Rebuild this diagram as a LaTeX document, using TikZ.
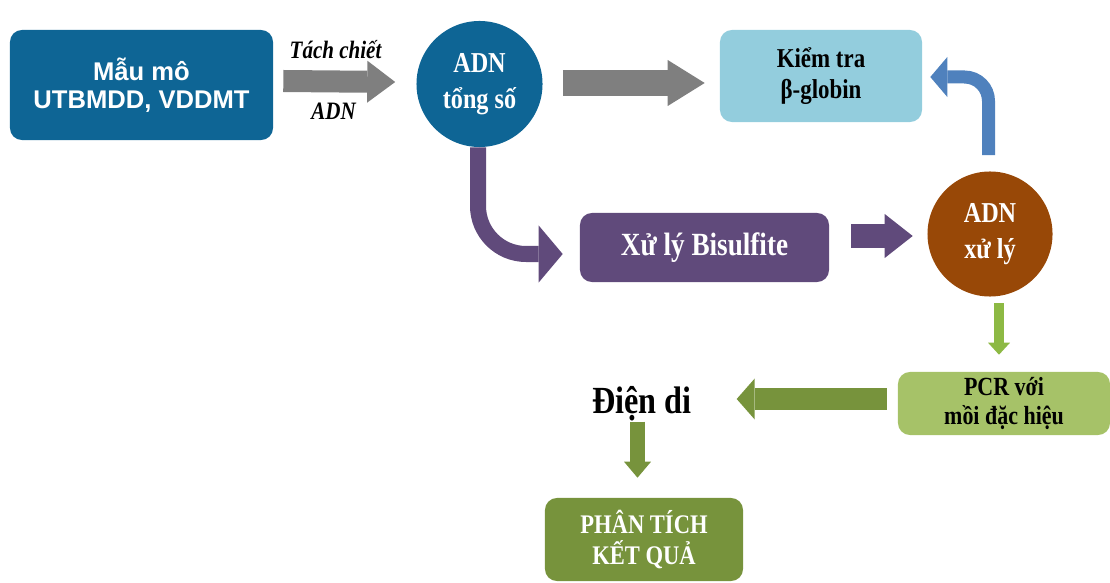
\documentclass[tikz,border=0pt]{standalone}
\usepackage{fontspec}
\setmainfont{Liberation Serif}[FakeStretch=0.84]
\newfontfamily\arialfont{Liberation Sans}
\usetikzlibrary{arrows.meta,calc}

\definecolor{xanhdam}{HTML}{0E6595}
\definecolor{xam}{HTML}{7F7F7F}
\definecolor{xanhnhat}{HTML}{93CDDD}
\definecolor{xanhduong}{HTML}{4F81BD}
\definecolor{tim}{HTML}{604A7B}
\definecolor{nau}{HTML}{984807}
\definecolor{lacay}{HTML}{8DB944}
\definecolor{lanhat}{HTML}{A6C268}
\definecolor{oliu}{HTML}{77933C}

\begin{document}
\begin{tikzpicture}[x=0.025cm,y=-0.025cm,
    hop/.style={rectangle,rounded corners=0.3cm,inner sep=0pt,align=center},
    tron/.style={circle,inner sep=0pt,align=center,text=white,
      font=\bfseries\fontsize{20.5}{26}\selectfont},
    nhan/.style={font=\bfseries\itshape\fontsize{17.8}{20}\selectfont},
    muiten/.style n args={4}{draw=#1,line width=#2,
      -{Triangle[width=#3,length=#4,line width=0pt]}}]
  \useasboundingbox (0,0) rectangle (1110,583);

  % cac khoi
  \node[hop,fill=xanhdam,text=white,minimum width=6.575cm,minimum height=2.75cm,
    font=\arialfont\bfseries\fontsize{18.2}{20}\selectfont] (mau) at (141.5,85)
    {Mẫu mô\\UTBMDD, VDDMT};
  \node[tron,fill=xanhdam,minimum size=3.15cm] (tong) at (479.5,84) {ADN\\tổng số};
  \node[hop,fill=xanhnhat,minimum width=5.05cm,minimum height=2.3cm,
    font=\bfseries\fontsize{19.4}{22.5}\selectfont] (kiemtra) at (821,76)
    {Kiểm tra\\β-globin};
  \node[hop,fill=tim,text=white,minimum width=6.225cm,minimum height=1.725cm,
    font=\bfseries\fontsize{23}{26}\selectfont] (bisul) at (704.5,247.5)
    {Xử lý Bisulfite};
  \node[tron,fill=nau,minimum size=3.125cm] (xuly) at (990,234) {ADN\\xử lý};
  \node[hop,fill=lanhat,minimum width=5.3cm,minimum height=1.575cm,
    font=\bfseries\fontsize{18.6}{20.6}\selectfont] (pcr) at (1004,403.5)
    {PCR với\\mồi đặc hiệu};
  \node[anchor=base,font=\bfseries\fontsize{27.3}{30}\selectfont] (diendi) at (642,413)
    {Điện di};
  \node[hop,fill=oliu,text=white,minimum width=4.95cm,minimum height=2.075cm,
    font=\bfseries\fontsize{19.1}{22.7}\selectfont] (ketqua) at (644,539.5)
    {PHÂN TÍCH\\KẾT QUẢ};

  % nhan tren mui ten
  \node[nhan,anchor=base] (tach) at (335.5,59) {Tách chiết};
  \node[nhan,anchor=base] (adn) at (333.5,120) {ADN};

  % mui ten
  \draw[muiten={xam}{0.55cm}{1.05cm}{0.7cm}]
    ($(mau.east)+(10,-4)$) -- ($(tong.west)+(-21,-2)$);
  \draw[muiten={xam}{0.625cm}{1.15cm}{0.925cm}]
    ($(tong.east)+(20,-1)$) -- ($(kiemtra.west |- tong.east)+(-15,-1)$);
  \draw[muiten={xanhduong}{0.325cm}{1.0cm}{0.425cm},rounded corners=0.6cm]
    ($(xuly.north)+(-1.5,-16)$) |- ($(kiemtra.east)+(8,1)$);
  \draw[muiten={tim}{0.4cm}{1.425cm}{0.6cm},rounded corners=1.2cm]
    ($(tong.south)+(-1.5,0)$) |- ($(bisul.west)+(-17,6.5)$);
  \draw[muiten={tim}{0.575cm}{1.1cm}{0.7cm}]
    ($(bisul.east)+(22,-11.5)$) -- ($(xuly.west |- bisul.east)+(-14.5,-11.5)$);
  \draw[muiten={lacay}{0.25cm}{0.55cm}{0.3cm}]
    ($(xuly.south)+(9,6.5)$) -- ($(xuly.south |- pcr.north)+(9,-17)$);
  \draw[muiten={oliu}{0.55cm}{1.025cm}{0.45cm}]
    ($(pcr.west)+(-11,-4.5)$) -- ($(diendi.east |- pcr.west)+(40,-4.5)$);
  \draw[muiten={oliu}{0.375cm}{0.675cm}{0.4cm}]
    ($(ketqua.north |- diendi.south)+(-6.5,-4)$) -- ($(ketqua.north)+(-6.5,-20)$);
\end{tikzpicture}
\end{document}
